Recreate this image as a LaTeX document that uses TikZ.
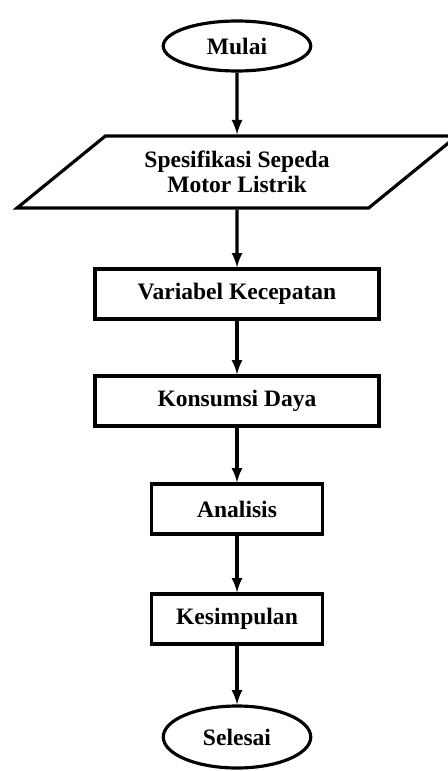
\documentclass[tikz,border=0pt]{standalone}
\usepackage{fontspec}
\setmainfont{Liberation Serif}
\usetikzlibrary{shapes.geometric}

\begin{document}
\begin{tikzpicture}[>=latex, line width=1.8pt,
    font=\bfseries\fontsize{13.4}{14.2}\selectfont,
    term/.style={draw, ellipse, minimum width=2.95cm, minimum height=1.0cm, inner sep=0pt},
    io/.style={draw, trapezium, trapezium left angle=39, trapezium right angle=141,
      trapezium stretches, minimum width=8.8cm, minimum height=1.44cm, align=center},
    proc/.style={draw, rectangle, minimum height=1.0cm, inner sep=0pt}]
  \useasboundingbox (0,0) rectangle (8.94,-15.42);
  \node[term] (mulai) at (4.74,-0.92) {Mulai};
  \node[io] (spek) at (4.74,-3.44) {Spesifikasi Sepeda\\Motor Listrik};
  \node[proc, minimum width=5.68cm] (kecepatan) at (4.74,-5.88) {Variabel Kecepatan};
  \node[proc, minimum width=5.68cm] (daya) at (4.74,-8.02) {Konsumsi Daya};
  \node[proc, minimum width=3.42cm] (analisis) at (4.74,-10.18) {Analisis};
  \node[proc, minimum width=3.42cm] (simpulan) at (4.74,-12.38) {Kesimpulan};
  \node[term, minimum height=1.24cm] (selesai) at (4.74,-14.74) {Selesai};
  \foreach \a/\b in {mulai/spek, spek/kecepatan, kecepatan/daya, daya/analisis,
      analisis/simpulan, simpulan/selesai}
    \draw[->] (\a) -- (\b);
\end{tikzpicture}
\end{document}
